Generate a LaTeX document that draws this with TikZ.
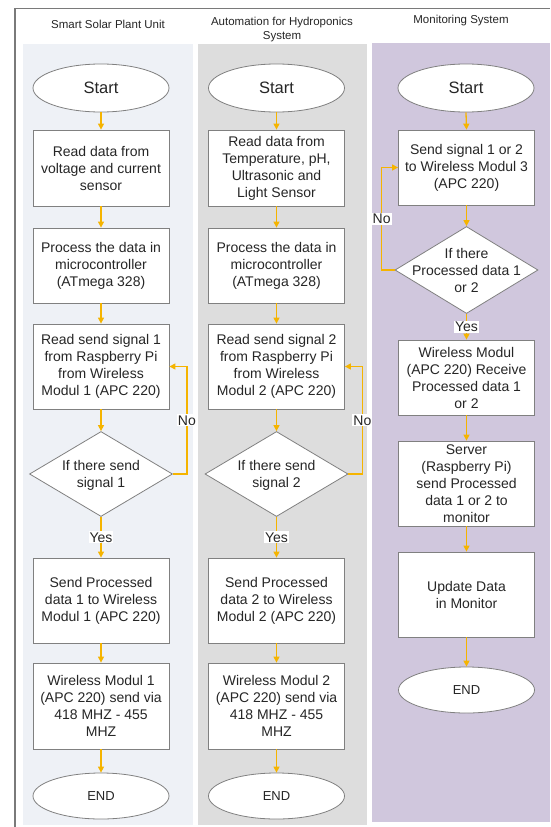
\documentclass[tikz,border=0pt]{standalone}
\usepackage{fontspec}
\setmainfont{Liberation Sans}
\usetikzlibrary{shapes.geometric,arrows.meta}
\definecolor{laneA}{HTML}{EEF1F6}
\definecolor{laneB}{HTML}{DDDDDD}
\definecolor{laneC}{HTML}{D0C7DD}
\definecolor{flow}{HTML}{F5B400}
\definecolor{edgegray}{HTML}{808080}
\definecolor{framegray}{HTML}{7A7A7A}
\definecolor{ink}{HTML}{262626}
\newcommand{\dtext}[1]{\makebox[0pt]{\smash{\raisebox{-0.38em}{\begin{tabular}{@{}c@{}}#1\end{tabular}}}}}
\begin{document}
\begin{tikzpicture}[x=1pt,y=-1pt,
 box/.style={draw=edgegray, fill=white, line width=0.8pt, minimum width=136pt, align=center, inner sep=1pt, font=\fontsize{14}{17}\selectfont, text=ink},
 term/.style={ellipse, draw=edgegray, fill=white, line width=0.8pt, minimum width=136pt, minimum height=48pt, inner sep=0pt, text=ink},
 dec/.style={diamond, draw=edgegray, fill=white, line width=0.8pt, minimum width=143pt, minimum height=85pt, inner sep=0pt, font=\fontsize{14}{17}\selectfont, text=ink},
 flowarrow/.style={draw=flow, line width=1.3pt, -{Triangle[width=6pt,length=6pt]}},
 tag/.style={fill=white, inner sep=1pt, font=\fontsize{14}{17}\selectfont, text=ink},
 hdr/.style={font=\fontsize{11.5}{14}\selectfont, text=ink, align=center},
 startfont/.style={font=\fontsize{16.5}{20}\selectfont},
 endfont/.style={font=\fontsize{13}{16}\selectfont}]
\useasboundingbox (0,0) rectangle (550,827);
\fill[white] (0,0) rectangle (550,827);
% lanes
\fill[laneA] (23,44) rectangle (193,825);
\fill[laneB] (198,44) rectangle (367,825);
\fill[laneC] (372,43) rectangle (550,822);
% frame
\draw[framegray, line width=1.5pt] (15,827) -- (15,8.5) -- (550,8.5);
% headers
\node[hdr] (h1) at (108,24) {Smart Solar Plant Unit};
\node[hdr] (h2) at (282,30) {Automation for Hydroponics\\System};
\node[hdr] (h3) at (461,21) {Monitoring System};
% lane 1
\node[term, startfont] (s1) at (101,88) {Start};
\node[box, minimum height=76pt] (a1) at (101,168) {Read data from\\voltage and current\\sensor};
\node[box, minimum height=75pt] (a2) at (101,265.5) {Process the data in\\microcontroller\\(ATmega 328)};
\node[box, minimum height=85pt] (a3) at (101,366.5) {Read send signal 1\\from Raspberry Pi\\from Wireless\\Modul 1 (APC 220)};
\node[dec] (d1) at (101,474) {\dtext{If there send\\signal 1}};
\node[box, minimum height=85pt] (a4) at (101,600.5) {Send Processed\\data 1 to Wireless\\Modul 1 (APC 220)};
\node[box, minimum height=86pt] (a5) at (101,706) {Wireless Modul 1\\(APC 220) send via\\418 MHZ - 455\\MHZ};
\node[term, endfont, minimum height=46pt] (e1) at (101,796) {END};
% lane 2
\node[term, startfont] (s2) at (276.5,88) {Start};
\node[box, minimum height=76pt] (c1) at (276.5,168) {Read data from\\Temperature, pH,\\Ultrasonic and\\Light Sensor};
\node[box, minimum height=75pt] (c2) at (276.5,265.5) {Process the data in\\microcontroller\\(ATmega 328)};
\node[box, minimum height=85pt] (c3) at (276.5,366.5) {Read send signal 2\\from Raspberry Pi\\from Wireless\\Modul 2 (APC 220)};
\node[dec] (d2) at (276.5,474) {\dtext{If there send\\signal 2}};
\node[box, minimum height=85pt] (c4) at (276.5,600.5) {Send Processed\\data 2 to Wireless\\Modul 2 (APC 220)};
\node[box, minimum height=86pt] (c5) at (276.5,706) {Wireless Modul 2\\(APC 220) send via\\418 MHZ - 455\\MHZ};
\node[term, endfont, minimum height=46pt] (e2) at (276.5,796) {END};
% lane 3
\node[term, startfont] (s3) at (466,88) {Start};
\node[box, minimum height=75pt] (b1) at (466.5,167.5) {Send signal 1 or 2\\to Wireless Modul 3\\(APC 220)};
\node[dec, minimum height=87pt] (d3) at (466.5,270) {\dtext{If there\\Processed data 1\\or 2}};
\node[box, minimum height=75pt] (b2) at (466.5,377.5) {Wireless Modul\\(APC 220) Receive\\Processed data 1\\or 2};
\node[box, minimum height=85pt] (b3) at (466.5,483.5) {Server\\(Raspberry Pi)\\send Processed\\data 1 or 2 to\\monitor};
\node[box, minimum height=85pt] (b4) at (466.5,594.5) {Update Data\\in Monitor};
\node[term, endfont, minimum height=46pt] (e3) at (466.5,690) {END};
% connectors lane 1
\draw[flowarrow] (s1) -- (a1);
\draw[flowarrow] (a1) -- (a2);
\draw[flowarrow] (a2) -- (a3);
\draw[flowarrow] (a3) -- (d1);
\draw[flowarrow] (d1.south) -- (a4.north) node[tag, midway] {Yes};
\draw[flowarrow] (a4) -- (a5);
\draw[flowarrow] (a5) -- (e1);
\draw[flowarrow] (d1.east) -- ++(14,0) |- (a3.east) node[tag, pos=0.25] {No};
% connectors lane 2
\draw[flowarrow] (s2) -- (c1);
\draw[flowarrow] (c1) -- (c2);
\draw[flowarrow] (c2) -- (c3);
\draw[flowarrow] (c3) -- (d2);
\draw[flowarrow] (d2.south) -- (c4.north) node[tag, midway] {Yes};
\draw[flowarrow] (c4) -- (c5);
\draw[flowarrow] (c5) -- (e2);
\draw[flowarrow] (d2.east) -- ++(14,0) |- (c3.east) node[tag, pos=0.25] {No};
% connectors lane 3
\draw[flowarrow] (s3.south) -- (b1.north);
\draw[flowarrow] (b1) -- (d3);
\draw[flowarrow] (d3.south) -- (b2.north) node[tag, midway] {Yes};
\draw[flowarrow] (b2) -- (b3);
\draw[flowarrow] (b3) -- (b4);
\draw[flowarrow] (b4) -- (e3);
\draw[flowarrow] (d3.west) -- ++(-13,0) |- (b1.west) node[tag, pos=0.25] {No};
\end{tikzpicture}
\end{document}
